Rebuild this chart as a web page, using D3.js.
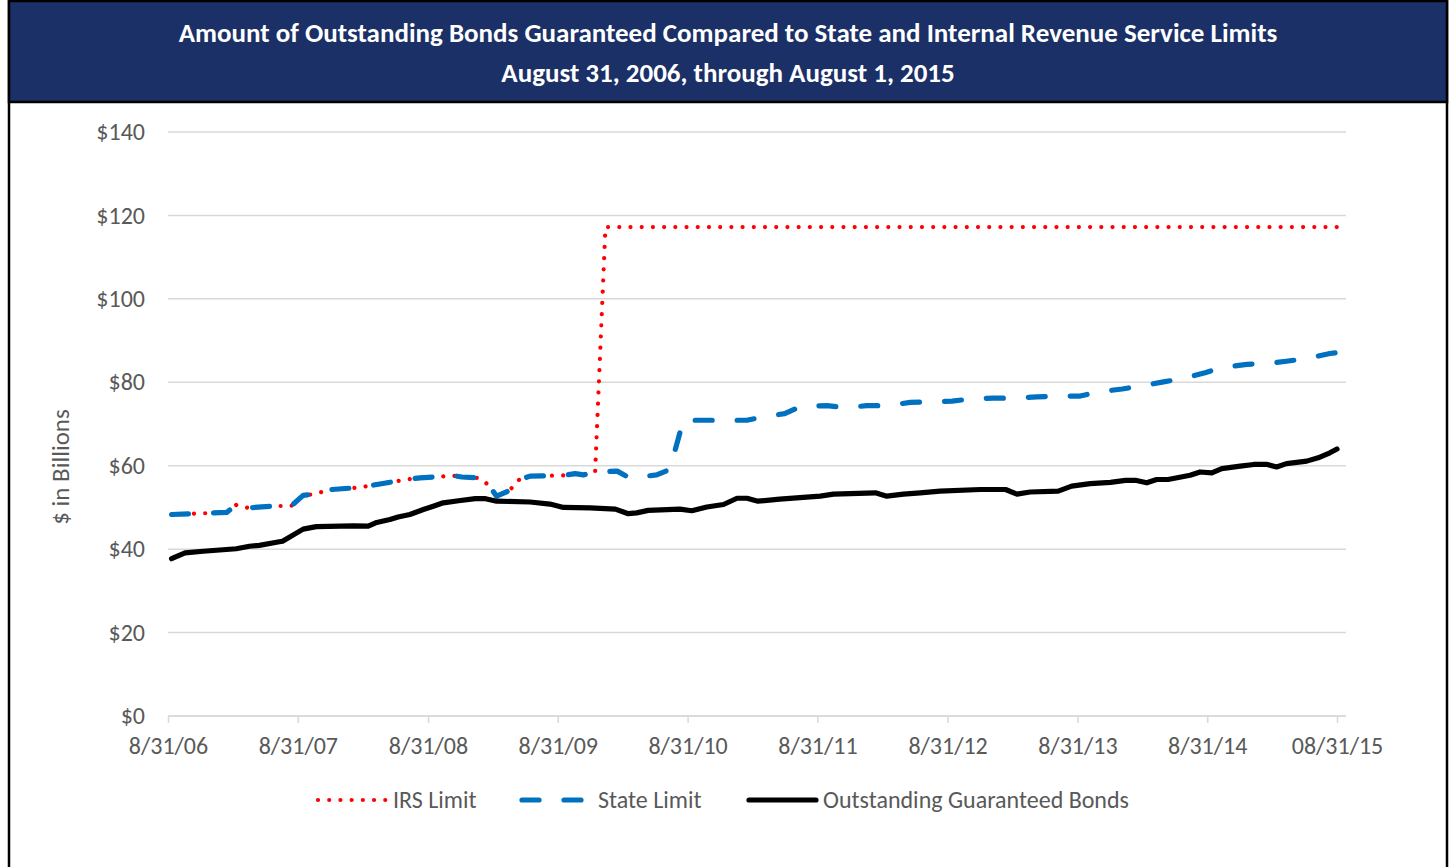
<!DOCTYPE html>
<html>
<head>
<meta charset="utf-8">
<script src="https://cdn.jsdelivr.net/npm/d3@7"></script>
<style>
  body { margin: 0; background: #fff; }
  svg { display: block; font-family: Calibri, Carlito, "Open Sans", sans-serif; }
</style>
</head>
<body>
<div id="chart"></div>
<script>
const width = 1450;
const height = 867;

const titleLines = [
  "Amount of Outstanding Bonds Guaranteed Compared to State and Internal Revenue Service Limits",
  "August 31, 2006, through August 1, 2015"
];
const yAxisTitle = "$ in Billions";
const yTicks = [0, 20, 40, 60, 80, 100, 120, 140];
const xTicks = ["2006-08-31", "2007-08-31", "2008-08-31", "2009-08-31", "2010-08-31",
  "2011-08-31", "2012-08-31", "2013-08-31", "2014-08-31", "2015-08-31"];
const xTickLabels = ["8/31/06", "8/31/07", "8/31/08", "8/31/09", "8/31/10",
  "8/31/11", "8/31/12", "8/31/13", "8/31/14", "08/31/15"];
const seriesNames = ["IRS Limit", "State Limit", "Outstanding Guaranteed Bonds"];

// IRS limit (billions)
const irsDates = ["2006-09-10", "2006-11-10", "2007-02-12", "2007-03-11", "2007-04-13", "2007-06-22",
  "2007-08-13", "2007-09-15", "2007-10-09", "2007-11-06", "2007-12-04", "2008-02-08", "2008-03-07",
  "2008-04-09", "2008-06-04", "2008-07-11", "2008-08-09", "2008-10-04", "2008-11-11", "2008-12-04",
  "2009-01-16", "2009-02-09", "2009-03-02", "2009-03-12", "2009-04-18", "2009-05-11", "2009-06-14",
  "2009-08-09", "2009-09-16", "2009-10-19", "2009-11-11", "2009-12-14", "2010-01-12", "2015-08-31"];
const irsValues = [48.3, 48.5, 48.8, 50.6, 49.9, 50.3,
  50.4, 52.9, 53.1, 53.7, 54.3, 54.7, 55.0,
  55.5, 56.3, 56.8, 57.1, 57.4, 57.6, 57.3,
  57.1, 56.0, 53.9, 52.7, 54.1, 56.5, 57.5,
  57.6, 57.7, 58.1, 57.8, 58.5, 117.2, 117.2];

// State limit (billions)
const stateDates = ["2006-09-10", "2006-11-10", "2007-02-12", "2007-03-11", "2007-04-13", "2007-06-22",
  "2007-08-13", "2007-09-15", "2007-10-09", "2007-11-06", "2007-12-04", "2008-02-08", "2008-03-07",
  "2008-04-09", "2008-06-04", "2008-07-11", "2008-08-09", "2008-10-04", "2008-11-11", "2008-12-04",
  "2009-01-16", "2009-02-09", "2009-03-02", "2009-03-12", "2009-04-18", "2009-05-11", "2009-06-14",
  "2009-08-09", "2009-09-16", "2009-10-19", "2009-11-11", "2009-12-14", "2010-02-14", "2010-03-22",
  "2010-06-05", "2010-07-12", "2010-08-19", "2010-10-26", "2011-02-14", "2011-04-01", "2011-05-31",
  "2011-07-17", "2011-09-27", "2011-11-17", "2012-01-17", "2012-03-17", "2012-05-18", "2012-07-13",
  "2012-09-13", "2012-11-13", "2013-01-08", "2013-03-09", "2013-05-09", "2013-07-04", "2013-09-08",
  "2013-10-30", "2014-01-04", "2014-02-25", "2014-04-30", "2014-06-25", "2014-08-25", "2014-10-16",
  "2014-12-21", "2015-02-16", "2015-04-16", "2015-06-07", "2015-08-11", "2015-08-31"];
const stateValues = [48.3, 48.5, 48.8, 50.6, 49.9, 50.3,
  50.4, 52.9, 53.1, 53.7, 54.3, 54.7, 55.0,
  55.5, 56.3, 56.8, 57.1, 57.4, 57.6, 57.3,
  57.1, 56.0, 53.9, 52.7, 54.1, 56.5, 57.5,
  57.6, 57.7, 58.1, 57.8, 58.5, 58.7, 57.0,
  57.8, 59.1, 70.9, 70.9, 70.9, 71.7, 72.5,
  74.3, 74.4, 73.9, 74.4, 74.4, 75.2, 75.3,
  75.5, 76.1, 76.2, 76.2, 76.5, 76.7, 76.7,
  77.7, 78.4, 79.1, 80.1, 80.9, 82.3, 83.6,
  84.3, 84.5, 85.1, 85.7, 86.9, 87.1];

// Outstanding guaranteed bonds (billions)
const bondDates = ["2006-09-10", "2006-10-18", "2006-12-08", "2007-03-11", "2007-04-17", "2007-05-15",
  "2007-07-06", "2007-07-19", "2007-09-15", "2007-10-22", "2008-02-03", "2008-03-16", "2008-04-09",
  "2008-05-16", "2008-06-08", "2008-07-11", "2008-08-18", "2008-09-15", "2008-10-13", "2008-11-25",
  "2009-01-11", "2009-02-09", "2009-03-12", "2009-06-14", "2009-08-09", "2009-09-16", "2009-11-30",
  "2010-02-09", "2010-03-17", "2010-04-10", "2010-05-12", "2010-08-09", "2010-09-12", "2010-10-24",
  "2010-12-10", "2011-01-17", "2011-02-14", "2011-03-17", "2011-05-17", "2011-09-08", "2011-10-15",
  "2012-02-10", "2012-03-13", "2012-04-29", "2012-06-15", "2012-08-10", "2012-12-01", "2013-02-10",
  "2013-03-14", "2013-04-20", "2013-07-08", "2013-08-15", "2013-10-06", "2013-12-02", "2014-01-13",
  "2014-02-10", "2014-03-14", "2014-04-11", "2014-05-13", "2014-07-14", "2014-08-11", "2014-09-13",
  "2014-10-11", "2014-12-02", "2015-01-09", "2015-02-16", "2015-03-14", "2015-04-11", "2015-06-07",
  "2015-07-09", "2015-08-11", "2015-08-31"];
const bondValues = [37.7, 39.1, 39.5, 40.1, 40.7, 40.9,
  41.7, 41.9, 44.8, 45.4, 45.6, 45.5, 46.4,
  47.1, 47.7, 48.3, 49.5, 50.3, 51.1, 51.6,
  52.1, 52.1, 51.5, 51.3, 50.8, 50.0, 49.9,
  49.6, 48.5, 48.7, 49.3, 49.6, 49.2, 50.1,
  50.7, 52.2, 52.2, 51.5, 52.0, 52.7, 53.2,
  53.5, 52.7, 53.2, 53.5, 53.9, 54.3, 54.3,
  53.2, 53.7, 53.9, 55.1, 55.7, 56.0, 56.5,
  56.5, 55.9, 56.7, 56.7, 57.7, 58.5, 58.3,
  59.3, 59.9, 60.3, 60.3, 59.7, 60.5, 61.1,
  61.9, 63.1, 64.0];

const parseDate = d3.utcParse("%Y-%m-%d");
const zip = (dates, values) => dates.map((d, i) => ({ date: parseDate(d), value: values[i] }));

const series = [
  { name: seriesNames[0], data: zip(irsDates, irsValues), color: "#ff0000", width: 4.2, dash: "0.01 11.2" },
  { name: seriesNames[1], data: zip(stateDates, stateValues), color: "#0070c0", width: 5.2, dash: "17 25" },
  { name: seriesNames[2], data: zip(bondDates, bondValues), color: "#000000", width: 5.2, dash: null }
];

const x = d3.scaleUtc()
  .domain([parseDate(xTicks[0]), parseDate(xTicks[xTicks.length - 1])])
  .range([168, 1337]);
const y = d3.scaleLinear().domain([0, 140]).range([716, 132]);

const svg = d3.select("#chart").append("svg")
  .attr("width", width)
  .attr("height", height);

// frame + banner
svg.append("rect")
  .attr("x", 9).attr("y", 1)
  .attr("width", 1438).attr("height", 900)
  .attr("fill", "#fff")
  .attr("stroke", "#000")
  .attr("stroke-width", 2.5);

svg.append("rect")
  .attr("x", 9).attr("y", 1)
  .attr("width", 1438).attr("height", 101)
  .attr("fill", "#1b3066")
  .attr("stroke", "#000")
  .attr("stroke-width", 2.5);

svg.selectAll(".title")
  .data(titleLines)
  .join("text")
  .attr("class", "title")
  .attr("x", 728)
  .attr("y", (d, i) => 42 + i * 40)
  .attr("text-anchor", "middle")
  .attr("fill", "#fff")
  .attr("font-weight", "bold")
  .attr("font-size", 27)
  .text(d => d);

// gridlines
svg.append("g")
  .selectAll("line")
  .data(yTicks)
  .join("line")
  .attr("x1", 168)
  .attr("x2", 1346)
  .attr("y1", d => y(d))
  .attr("y2", d => y(d))
  .attr("stroke", "#d9d9d9")
  .attr("stroke-width", 1.5);

// y axis labels
const yAxis = svg.append("g")
  .attr("transform", "translate(145,0)")
  .call(d3.axisLeft(y).tickValues(yTicks).tickSize(0).tickPadding(0).tickFormat(d => "$" + d))
  .attr("font-family", null)
  .attr("font-size", 24);
yAxis.select(".domain").remove();
yAxis.selectAll("text")
  .attr("fill", "#595959");

svg.append("text")
  .attr("transform", "translate(69,467) rotate(-90)")
  .attr("text-anchor", "middle")
  .attr("font-size", 25)
  .attr("fill", "#595959")
  .text(yAxisTitle);

// x axis
const xAxis = svg.append("g")
  .attr("transform", "translate(0,716)")
  .call(d3.axisBottom(x)
    .tickValues(xTicks.map(parseDate))
    .tickSize(7)
    .tickPadding(14)
    .tickFormat((d, i) => xTickLabels[i]))
  .attr("font-family", null)
  .attr("font-size", 24);
xAxis.select(".domain")
  .attr("d", "M168,0H1346")
  .attr("stroke", "#d9d9d9")
  .attr("stroke-width", 1.5);
xAxis.selectAll(".tick line")
  .attr("stroke", "#d9d9d9")
  .attr("stroke-width", 1.5);
xAxis.selectAll("text")
  .attr("fill", "#595959");

// lines
const line = d3.line()
  .x(d => x(d.date))
  .y(d => y(d.value));

svg.append("g")
  .selectAll("path")
  .data(series)
  .join("path")
  .attr("fill", "none")
  .attr("stroke", d => d.color)
  .attr("stroke-width", d => d.width)
  .attr("stroke-linecap", "round")
  .attr("stroke-linejoin", "round")
  .attr("stroke-dasharray", d => d.dash)
  .attr("d", d => line(d.data));

// legend
const legendItems = [
  { x0: 318, x1: 387, tx: 393 },
  { x0: 522, x1: 586, tx: 598 },
  { x0: 749, x1: 816, tx: 823 }
];
const legend = svg.append("g");
series.forEach((s, i) => {
  const it = legendItems[i];
  legend.append("line")
    .attr("x1", it.x0).attr("x2", it.x1)
    .attr("y1", 800).attr("y2", 800)
    .attr("stroke", s.color)
    .attr("stroke-width", s.width)
    .attr("stroke-linecap", "round")
    .attr("stroke-dasharray", s.dash);
  legend.append("text")
    .attr("x", it.tx)
    .attr("y", 800)
    .attr("dy", "0.35em")
    .attr("font-size", 24)
    .attr("fill", "#595959")
    .text(s.name);
});
</script>
</body>
</html>
